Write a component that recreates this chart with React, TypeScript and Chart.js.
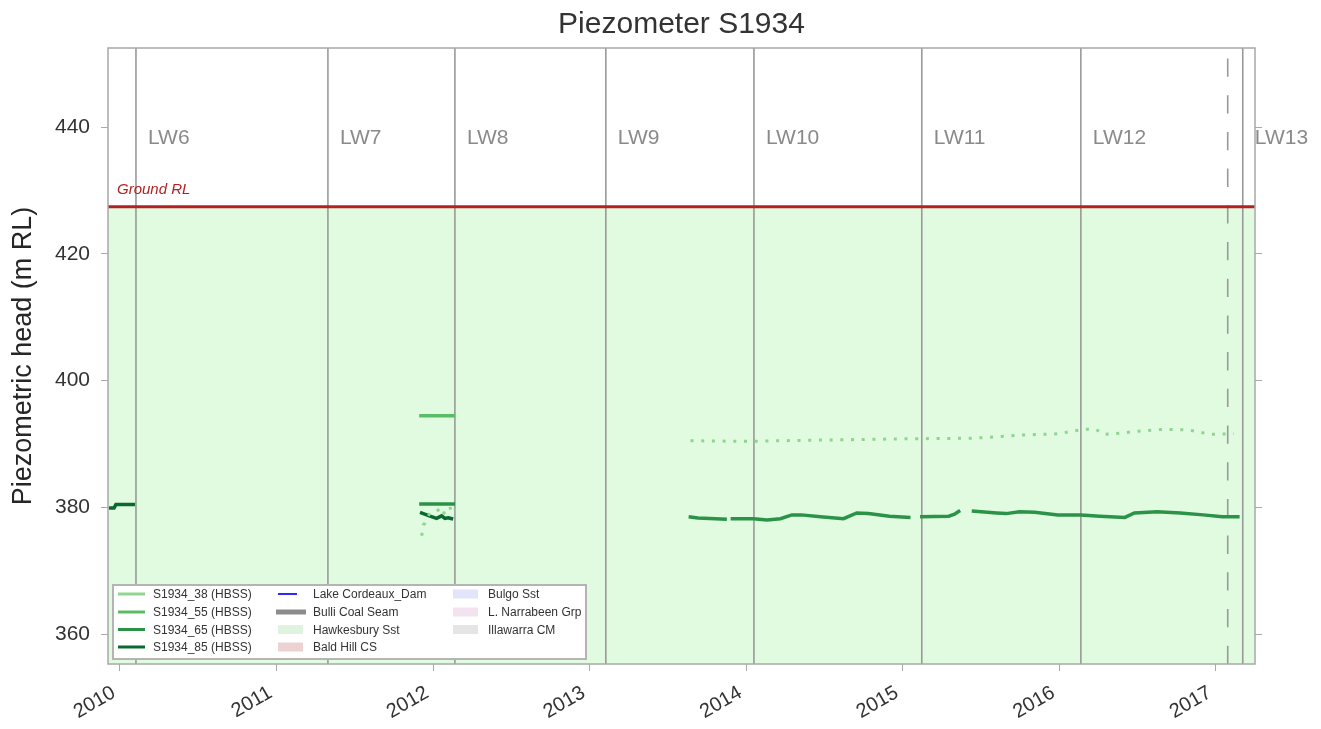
import React, { useEffect, useRef } from 'react';
import { Chart, registerables } from 'chart.js';

Chart.register(...registerables);

const FONT = '"Liberation Sans", Arial, Helvetica, sans-serif';

const TITLE = 'Piezometer S1934';
const Y_TITLE = 'Piezometric head (m RL)';

const X_TICKS = [2010, 2011, 2012, 2013, 2014, 2015, 2016, 2017];
const Y_TICKS = [360, 380, 400, 420, 440];
const X_MIN = 2009.9234;
const X_MAX = 2017.2492;
const Y_MIN = 355.27;
const Y_MAX = 452.47;

const GROUND_RL = 427.42;
const GROUND_LABEL = 'Ground RL';

const LW_NAMES = ['LW6', 'LW7', 'LW8', 'LW9', 'LW10', 'LW11', 'LW12', 'LW13'];
const LW_START = [2010.102, 2011.328, 2012.139, 2013.103, 2014.049, 2015.121, 2016.137, 2017.171];
const DASHED_EVENT = 2017.075;

// decimal years and heads (m RL); null = gap in record
const S38_X = [2011.927, 2011.937, 2011.948, 2011.980, 2012.012, 2012.043, 2012.065, 2012.075, 2012.086, 2012.107, 2012.118, 2012.139,
  2013.0,
  2013.644, 2013.990, 2014.465, 2015.015, 2015.452, 2015.765, 2015.999, 2016.078, 2016.156, 2016.234, 2016.278, 2016.347, 2016.503, 2016.660, 2016.816, 2016.889, 2016.962, 2017.114];
const S38_Y = [375.5, 377.2, 377.5, 379.15, 379.3, 379.7, 378.8, 379.5, 379.8, 380.1, 379.05, 379.6,
  null,
  390.5, 390.4, 390.6, 390.8, 390.9, 391.4, 391.6, 392.0, 392.3, 392.3, 391.5, 391.6, 392.0, 392.3, 392.2, 391.9, 391.5, 391.6];

const S55_X = [2011.911, 2012.140];
const S55_Y = [394.45, 394.45];

const S65_X = [2011.911, 2012.140,
  2013.0,
  2013.632, 2013.691, 2013.876,
  2013.888,
  2013.900, 2014.047, 2014.132, 2014.218, 2014.291, 2014.352, 2014.474, 2014.621, 2014.706, 2014.780, 2014.914, 2015.049,
  2015.080,
  2015.110, 2015.293, 2015.330, 2015.366,
  2015.400,
  2015.440, 2015.599, 2015.660, 2015.745, 2015.843, 2015.990, 2016.137, 2016.258, 2016.418, 2016.479, 2016.625, 2016.772, 2016.918, 2017.041, 2017.151];
const S65_Y = [380.5, 380.5,
  null,
  378.5, 378.3, 378.1,
  null,
  378.2, 378.2, 378.0, 378.2, 378.8, 378.8, 378.5, 378.2, 379.1, 379.0, 378.6, 378.4,
  null,
  378.5, 378.6, 378.9, 379.5,
  null,
  379.4, 379.1, 379.0, 379.3, 379.2, 378.8, 378.8, 378.6, 378.4, 379.1, 379.3, 379.1, 378.8, 378.5, 378.5];

const S85_X = [2009.930, 2009.962, 2009.974, 2010.096, 2011.0, 2011.916, 2011.980, 2012.022, 2012.054, 2012.075, 2012.096, 2012.128];
const S85_Y = [379.88, 379.88, 380.45, 380.45, null, 379.2, 378.6, 378.25, 378.65, 378.25, 378.35, 378.15];

const SERIES_NAMES = ['S1934_38 (HBSS)', 'S1934_55 (HBSS)', 'S1934_65 (HBSS)', 'S1934_85 (HBSS)'];
const SERIES_COLORS = ['#8fd48f', '#5bbb67', '#2b9348', '#0a6a2e'];

const LEGEND_COL2 = [
  { label: 'Lake Cordeaux_Dam', kind: 'line', color: '#2b2bff' },
  { label: 'Bulli Coal Seam', kind: 'thick', color: '#8c8c8c' },
  { label: 'Hawkesbury Sst', kind: 'patch', color: '#e0f3e0' },
  { label: 'Bald Hill CS', kind: 'patch', color: '#ecd2d2' },
];
const LEGEND_COL3 = [
  { label: 'Bulgo Sst', kind: 'patch', color: '#e1e4fb' },
  { label: 'L. Narrabeen Grp', kind: 'patch', color: '#f3e3f1' },
  { label: 'Illawarra CM', kind: 'patch', color: '#e5e5e5' },
];

const HAWKESBURY_FILL = '#e1fbe1';

const zip = (xs: number[], ys: (number | null)[]) => xs.map((x, i) => ({ x, y: ys[i] }));

const overlay = {
  id: 'overlay',
  beforeDatasetsDraw(chart: any) {
    const { ctx, chartArea: a, scales } = chart;
    const x = scales.x;
    const y = scales.y;
    ctx.save();
    const yG = y.getPixelForValue(GROUND_RL);
    ctx.fillStyle = HAWKESBURY_FILL;
    ctx.fillRect(a.left, yG, a.right - a.left, a.bottom - yG);

    ctx.strokeStyle = '#999999';
    ctx.lineWidth = 1.6;
    LW_START.forEach((d) => {
      const px = x.getPixelForValue(d);
      ctx.beginPath();
      ctx.moveTo(px, a.top);
      ctx.lineTo(px, a.bottom);
      ctx.stroke();
    });
    const pd = x.getPixelForValue(DASHED_EVENT);
    ctx.setLineDash([18.3, 18.4]);
    ctx.beginPath();
    ctx.moveTo(pd, a.bottom);
    ctx.lineTo(pd, a.top + 6);
    ctx.stroke();
    ctx.setLineDash([]);

    ctx.strokeStyle = '#b22222';
    ctx.lineWidth = 3;
    ctx.beginPath();
    ctx.moveTo(a.left, yG);
    ctx.lineTo(a.right, yG);
    ctx.stroke();

    ctx.fillStyle = '#b22222';
    ctx.font = `italic 15px ${FONT}`;
    ctx.textAlign = 'left';
    ctx.textBaseline = 'alphabetic';
    ctx.fillText(GROUND_LABEL, a.left + 9, yG - 13);

    ctx.fillStyle = '#8a8a8a';
    ctx.font = `21px ${FONT}`;
    LW_START.forEach((d, i) => {
      const px = x.getPixelForValue(d);
      ctx.fillText(LW_NAMES[i], px + 12, a.top + 96);
    });
    ctx.restore();
  },
  afterDraw(chart: any) {
    const { ctx, chartArea: a } = chart;
    ctx.save();
    // frame
    ctx.strokeStyle = '#a8a8a8';
    ctx.lineWidth = 1.5;
    ctx.strokeRect(a.left, a.top, a.right - a.left, a.bottom - a.top);

    // title
    ctx.fillStyle = '#333333';
    ctx.font = `30px ${FONT}`;
    ctx.textAlign = 'center';
    ctx.textBaseline = 'alphabetic';
    ctx.fillText(TITLE, (a.left + a.right) / 2, 33);

    // legend
    const bx = 113, by = 585, bw = 473, bh = 74;
    ctx.fillStyle = '#ffffff';
    ctx.fillRect(bx, by, bw, bh);
    ctx.strokeStyle = '#b4b4b4';
    ctx.lineWidth = 2;
    ctx.strokeRect(bx, by, bw, bh);
    const rows = [594, 612, 629.5, 647];
    ctx.font = `12px ${FONT}`;
    ctx.textAlign = 'left';
    ctx.textBaseline = 'middle';
    SERIES_NAMES.forEach((name, i) => {
      ctx.strokeStyle = SERIES_COLORS[i];
      ctx.lineWidth = 3;
      ctx.beginPath();
      ctx.moveTo(118, rows[i]);
      ctx.lineTo(145, rows[i]);
      ctx.stroke();
      ctx.fillStyle = '#333333';
      ctx.fillText(name, 153, rows[i] + 1);
    });
    const drawItem = (it: any, hx: number, tx: number, ry: number) => {
      if (it.kind === 'line') {
        ctx.strokeStyle = it.color;
        ctx.lineWidth = 2;
        ctx.beginPath();
        ctx.moveTo(hx, ry);
        ctx.lineTo(hx + 19, ry);
        ctx.stroke();
      } else if (it.kind === 'thick') {
        ctx.fillStyle = it.color;
        ctx.fillRect(hx - 2, ry - 2.5, 30, 5);
      } else {
        ctx.fillStyle = it.color;
        ctx.fillRect(hx, ry - 4.5, 25, 9);
      }
      ctx.fillStyle = '#333333';
      ctx.fillText(it.label, tx, ry + 1);
    };
    LEGEND_COL2.forEach((it, i) => drawItem(it, 278, 313, rows[i]));
    LEGEND_COL3.forEach((it, i) => drawItem(it, 453, 488, rows[i]));
    ctx.restore();
  },
};

export default function App() {
  const ref = useRef<HTMLCanvasElement>(null);
  useEffect(() => {
    document.body.style.margin = '0';
    const canvas = ref.current!;
    const xFont = { family: FONT, size: 20 };
    const yFont = { family: FONT, size: 21 };
    const chart = new Chart(canvas, {
      type: 'line',
      data: {
        datasets: [
          { label: SERIES_NAMES[0], data: zip(S38_X, S38_Y), borderColor: SERIES_COLORS[0], borderWidth: 3, borderDash: [3, 7.7], borderCapStyle: 'butt', pointRadius: 0, fill: false, spanGaps: false, tension: 0 },
          { label: SERIES_NAMES[1], data: zip(S55_X, S55_Y), borderColor: SERIES_COLORS[1], borderWidth: 3.5, pointRadius: 0, fill: false, spanGaps: false, tension: 0 },
          { label: SERIES_NAMES[2], data: zip(S65_X, S65_Y), borderColor: SERIES_COLORS[2], borderWidth: 3.5, pointRadius: 0, fill: false, spanGaps: false, tension: 0 },
          { label: SERIES_NAMES[3], data: zip(S85_X, S85_Y), borderColor: SERIES_COLORS[3], borderWidth: 3.5, pointRadius: 0, fill: false, spanGaps: false, tension: 0 },
        ] as any,
      },
      options: {
        animation: false,
        responsive: false,
        maintainAspectRatio: false,
        layout: { padding: { top: 48, left: 0, right: 0, bottom: 0 } },
        plugins: { legend: { display: false }, tooltip: { enabled: false }, title: { display: false } },
        scales: {
          x: {
            type: 'linear',
            min: X_MIN,
            max: X_MAX,
            afterBuildTicks: (s: any) => { s.ticks = X_TICKS.map((v) => ({ value: v })); },
            afterFit: (s: any) => { s.height = 65; },
            ticks: { autoSkip: false, maxRotation: 30, minRotation: 30, font: xFont, color: '#333333', padding: 10, labelOffset: -6, callback: (v: any) => String(v) },
            grid: { drawOnChartArea: false, drawTicks: true, tickLength: 7, color: '#aaaaaa', lineWidth: 1 },
            border: { display: false },
          },
          y: {
            type: 'linear',
            position: 'left',
            min: Y_MIN,
            max: Y_MAX,
            afterBuildTicks: (s: any) => { s.ticks = Y_TICKS.map((v) => ({ value: v })); },
            afterFit: (s: any) => { s.width = 108; },
            ticks: { font: yFont, color: '#333333', padding: 11, callback: (v: any) => String(v) },
            grid: { drawOnChartArea: false, drawTicks: true, tickLength: 7, color: '#aaaaaa', lineWidth: 1 },
            border: { display: false },
            title: { display: true, text: Y_TITLE, font: { family: FONT, size: 27 }, color: '#262626', padding: { top: 7, bottom: 0 } },
          },
          y2: {
            type: 'linear',
            position: 'right',
            min: Y_MIN,
            max: Y_MAX,
            afterBuildTicks: (s: any) => { s.ticks = Y_TICKS.map((v) => ({ value: v })); },
            afterFit: (s: any) => { s.width = 66; },
            ticks: { display: false },
            grid: { drawOnChartArea: false, drawTicks: true, tickLength: 7, color: '#aaaaaa', lineWidth: 1 },
            border: { display: false },
          },
        },
      } as any,
      plugins: [overlay],
    });
    return () => chart.destroy();
  }, []);
  return (
    <div style={{ width: 1321, height: 729 }}>
      <canvas ref={ref} width={1321} height={729} style={{ display: 'block', width: 1321, height: 729 }} />
    </div>
  );
}
